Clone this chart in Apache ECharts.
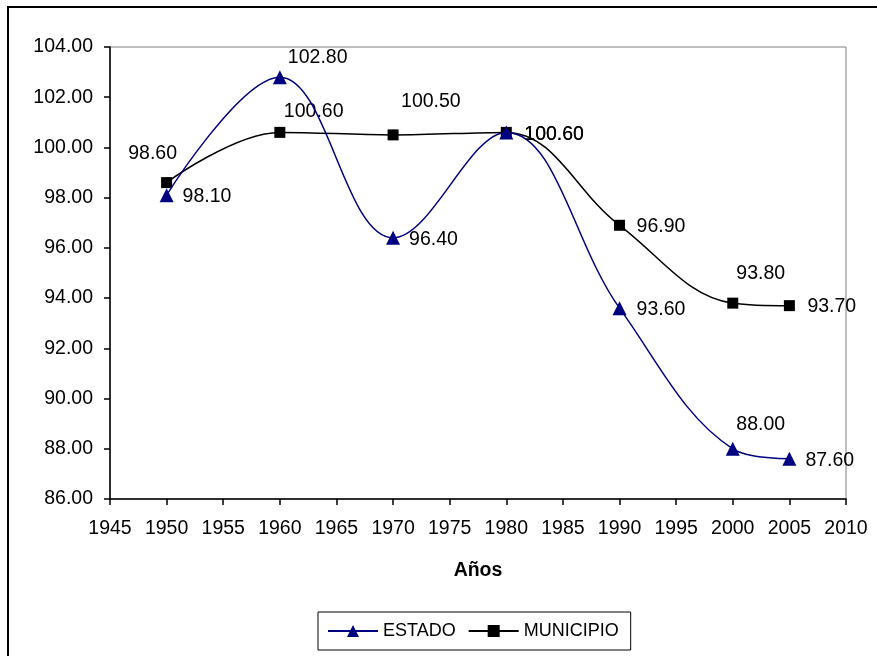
<!DOCTYPE html>
<html>
<head>
<meta charset="utf-8">
<script src="https://cdn.jsdelivr.net/npm/echarts@6/dist/echarts.min.js"></script>
<style>
html,body{margin:0;padding:0;background:#fff;}
#chart{width:877px;height:656px;}
</style>
</head>
<body>
<div id="chart"></div>
<script>
// ---- data ----
const years = [1950, 1960, 1970, 1980, 1990, 2000, 2005];
const estado = [98.10, 102.80, 96.40, 100.60, 93.60, 88.00, 87.60];
const municipio = [98.60, 100.60, 100.50, 100.60, 96.90, 93.80, 93.70];
const seriesNames = ['ESTADO', 'MUNICIPIO'];
const xAxisName = 'Años';

// ---- label placement (style, not data) ----
// [align, dx, dy] relative to the point
const estadoLabelPlace = [
  ['left', 16, 1], ['left', 8, -20], ['left', 16, 2], ['left', 18, 2],
  ['left', 17, 1], ['center', 28, -24], ['left', 16, 2]
];
const municipioLabelPlace = [
  ['center', -14, -29], ['left', 4, -21], ['left', 8, -33], ['left', 18, 2],
  ['left', 17, 1], ['center', 28, -30], ['left', 18, 1]
];

const FONT = 'Liberation Sans, Arial, sans-serif';
const FS = 19.5;

function buildData(vals, place) {
  return vals.map((v, i) => ({
    value: [years[i], v],
    label: {
      show: true,
      position: 'inside',
      align: place[i][0],
      verticalAlign: 'middle',
      offset: [place[i][1], place[i][2]],
      formatter: v.toFixed(2),
      color: '#000',
      fontFamily: FONT,
      fontSize: FS
    }
  }));
}

const chart = echarts.init(document.getElementById('chart'), null, {renderer: 'canvas'});
chart.setOption({
  animation: false,
  backgroundColor: '#fff',
  textStyle: {fontFamily: FONT},
  graphic: [{
    type: 'rect',
    shape: {x: 8, y: 7, width: 900, height: 700},
    style: {fill: 'none', stroke: '#000', lineWidth: 2},
    silent: true
  }],
  grid: {
    left: 110, right: 31, top: 47, bottom: 157,
    show: true, borderColor: '#808080', borderWidth: 1, backgroundColor: 'transparent'
  },
  legend: {
    left: 318, top: 612,
    padding: [10, 12, 10, 9],
    itemGap: 12,
    itemWidth: 50,
    itemHeight: 15,
    borderColor: '#000', borderWidth: 1,
    textStyle: {fontFamily: FONT, fontSize: 18, color: '#000'},
    data: seriesNames
  },
  xAxis: {
    type: 'value',
    min: 1945, max: 2010, interval: 5,
    name: xAxisName,
    nameLocation: 'middle',
    nameGap: 62,
    nameTextStyle: {fontFamily: FONT, fontSize: FS, fontWeight: 'bold', color: '#000'},
    axisLine: {show: true, onZero: false, lineStyle: {color: '#000', width: 1.5}},
    axisTick: {show: true, inside: false, length: 6, lineStyle: {color: '#000', width: 1.5}},
    axisLabel: {color: '#000', fontSize: FS, fontFamily: FONT, margin: 20,
      formatter: v => String(v)},
    splitLine: {show: false}
  },
  yAxis: {
    type: 'value',
    min: 86, max: 104, interval: 2,
    axisLine: {show: true, lineStyle: {color: '#000', width: 1.5}},
    axisTick: {show: true, inside: false, length: 6, lineStyle: {color: '#000', width: 1.5}},
    axisLabel: {color: '#000', fontSize: FS, fontFamily: FONT, margin: 17,
      formatter: v => v.toFixed(2)},
    splitLine: {show: false}
  },
  series: [
    {
      name: seriesNames[0],
      type: 'line',
      smooth: 0.38,
      data: buildData(estado, estadoLabelPlace),
      symbol: 'triangle',
      symbolSize: 14,
      showAllSymbol: true,
      itemStyle: {color: '#000080'},
      lineStyle: {color: '#000080', width: 1.5},
      z: 3
    },
    {
      name: seriesNames[1],
      type: 'line',
      smooth: 0.38,
      data: buildData(municipio, municipioLabelPlace),
      symbol: 'rect',
      symbolSize: 11,
      showAllSymbol: true,
      itemStyle: {color: '#000'},
      lineStyle: {color: '#000', width: 1.5},
      z: 2
    }
  ]
});
</script>
</body>
</html>
